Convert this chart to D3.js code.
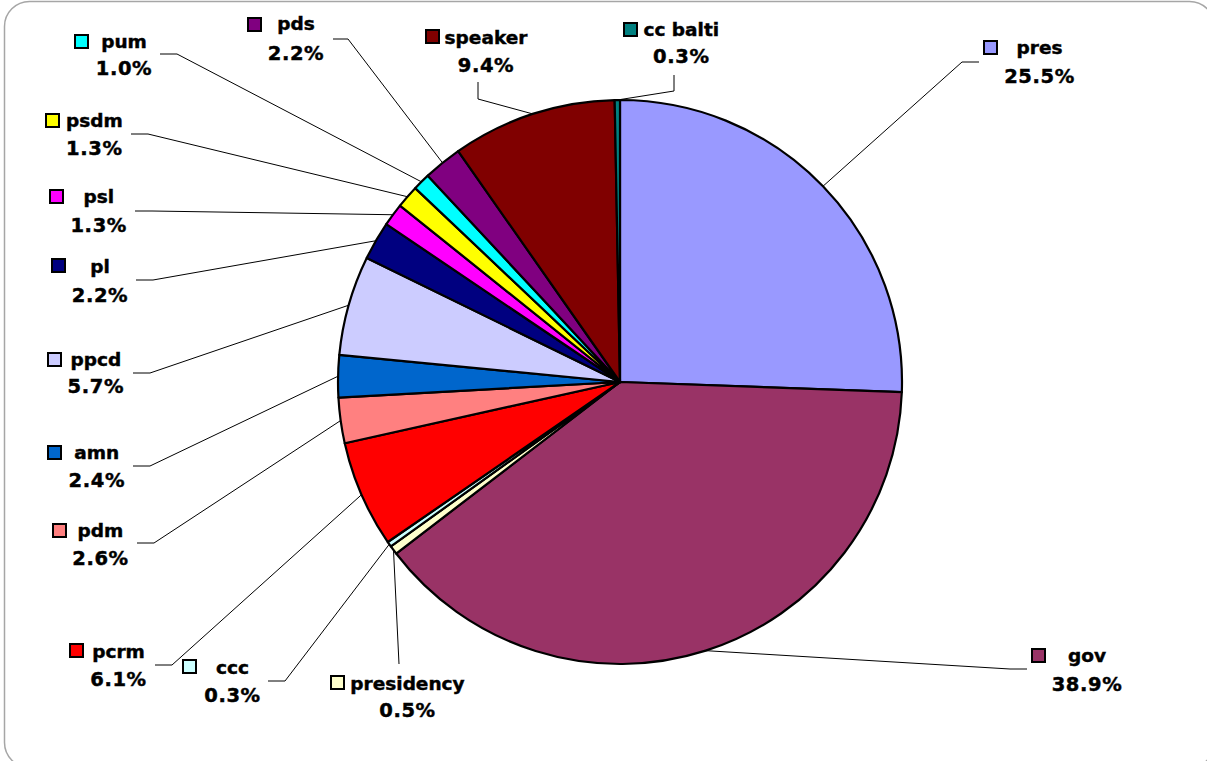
<!DOCTYPE html>
<html>
<head>
<meta charset="utf-8">
<script src="https://cdn.jsdelivr.net/npm/d3@7"></script>
<style>
  html, body { margin: 0; padding: 0; background: #ffffff; }
  svg { display: block; }
  text { font-family: "DejaVu Sans", Verdana, sans-serif; font-weight: bold; fill: #000; stroke: #000; stroke-width: 0.45px; }
</style>
</head>
<body>
<svg id="chart" width="1207" height="761"></svg>
<script>
// ---- data ----
const categories = ["pres", "gov", "presidency", "ccc", "pcrm", "pdm", "amn", "ppcd", "pl", "psl", "psdm", "pum", "pds", "speaker", "cc balti"];
const shares = [25.5, 38.9, 0.5, 0.3, 6.1, 2.6, 2.4, 5.7, 2.2, 1.3, 1.3, 1.0, 2.2, 9.4, 0.3];
const pctLabels = ["25.5%", "38.9%", "0.5%", "0.3%", "6.1%", "2.6%", "2.4%", "5.7%", "2.2%", "1.3%", "1.3%", "1.0%", "2.2%", "9.4%", "0.3%"];
const sliceColors = ["#9999FF", "#993366", "#FFFFCC", "#CCFFFF", "#FF0000", "#FF8080", "#0066CC", "#CCCCFF", "#000080", "#FF00FF", "#FFFF00", "#00FFFF", "#800080", "#800000", "#008080"];

// ---- label layout (annotation placement) ----
// cx: text centre, ny: name baseline, py: percent baseline, mx/my: marker top-left, elbow/end: leader line points
const labelLayout = [
  {cx: 1039.5, ny: 54, py: 83, mx: 983, my: 40, elbow: [962, 62], end: [979, 62]},
  {cx: 1087, ny: 662, py: 691, mx: 1031, my: 648, elbow: [1010, 669], end: [1027, 669]},
  {cx: 407.5, ny: 690, py: 717, mx: 330, my: 675, elbow: [399, 664], end: [399, 664]},
  {cx: 232.5, ny: 674, py: 702, mx: 182, my: 659, elbow: [285, 681], end: [268, 681]},
  {cx: 118.5, ny: 658, py: 686, mx: 69, my: 643, elbow: [172, 665], end: [155, 665]},
  {cx: 100.5, ny: 537, py: 565, mx: 52, my: 523, elbow: [154, 543], end: [137, 543]},
  {cx: 96.8, ny: 459, py: 487, mx: 47, my: 445, elbow: [150, 466], end: [133, 466]},
  {cx: 95.8, ny: 366, py: 393, mx: 47, my: 352, elbow: [150, 373], end: [133, 373]},
  {cx: 100, ny: 273, py: 302, mx: 51, my: 258, elbow: [153, 280], end: [136, 280]},
  {cx: 98.7, ny: 203, py: 232, mx: 49, my: 189, elbow: [152, 211], end: [135, 211]},
  {cx: 94.3, ny: 127, py: 155, mx: 45, my: 113, elbow: [148, 134], end: [131, 134]},
  {cx: 124, ny: 48, py: 75, mx: 74, my: 34, elbow: [177, 54], end: [160, 54]},
  {cx: 296, ny: 30, py: 60, mx: 247, my: 17, elbow: [348, 39], end: [333, 39]},
  {cx: 486, ny: 44, py: 72, mx: 425, my: 29, elbow: [478, 99], end: [478, 82]},
  {cx: 681.3, ny: 36, py: 63, mx: 623, my: 22, elbow: [674, 91], end: [674, 75]}
];

const W = 1207, H = 761;
const cx = 620, cy = 382, R = 282;

const svg = d3.select("#chart");

// outer rounded frame
svg.append("rect")
  .attr("x", 4.5).attr("y", 1.5)
  .attr("width", 1210).attr("height", 766)
  .attr("rx", 25).attr("ry", 25)
  .attr("fill", "#fff")
  .attr("stroke", "#a6a6a6")
  .attr("stroke-width", 1.5);

const data = categories.map((c, i) => ({name: c, value: shares[i], pct: pctLabels[i], color: sliceColors[i], layout: labelLayout[i]}));

const pie = d3.pie().sort(null).value(d => d.value).startAngle(0).endAngle(2 * Math.PI);
const arcs = pie(data);

const arc = d3.arc().innerRadius(0).outerRadius(R);
const edgeArc = d3.arc().innerRadius(R).outerRadius(R);

const g = svg.append("g").attr("transform", `translate(${cx},${cy})`);

g.selectAll("path.slice")
  .data(arcs)
  .join("path")
  .attr("class", "slice")
  .attr("d", arc)
  .attr("fill", d => d.data.color)
  .attr("stroke", "#000")
  .attr("stroke-width", 2.2)
  .attr("stroke-linejoin", "round");

// leader lines
const line = d3.line();
svg.selectAll("path.leader")
  .data(arcs)
  .join("path")
  .attr("class", "leader")
  .attr("d", d => {
    const p = edgeArc.centroid(d);
    const start = [p[0] + cx, p[1] + cy];
    return line([start, d.data.layout.elbow, d.data.layout.end]);
  })
  .attr("fill", "none")
  .attr("stroke", "#000")
  .attr("stroke-width", 1);

// labels
const lab = svg.selectAll("g.label")
  .data(arcs)
  .join("g")
  .attr("class", "label");

lab.append("rect")
  .attr("x", d => d.data.layout.mx + 1)
  .attr("y", d => d.data.layout.my + 1)
  .attr("width", 13)
  .attr("height", 13)
  .attr("fill", d => d.data.color)
  .attr("stroke", "#000")
  .attr("stroke-width", 2);

lab.append("text")
  .attr("x", d => d.data.layout.cx)
  .attr("y", d => d.data.layout.ny)
  .attr("text-anchor", "middle")
  .attr("font-size", 18.5)
  .text(d => d.data.name);

lab.append("text")
  .attr("x", d => d.data.layout.cx)
  .attr("y", d => d.data.layout.py)
  .attr("text-anchor", "middle")
  .attr("font-size", 19.5)
  .attr("letter-spacing", 0.6)
  .text(d => d.data.pct);
</script>
</body>
</html>
